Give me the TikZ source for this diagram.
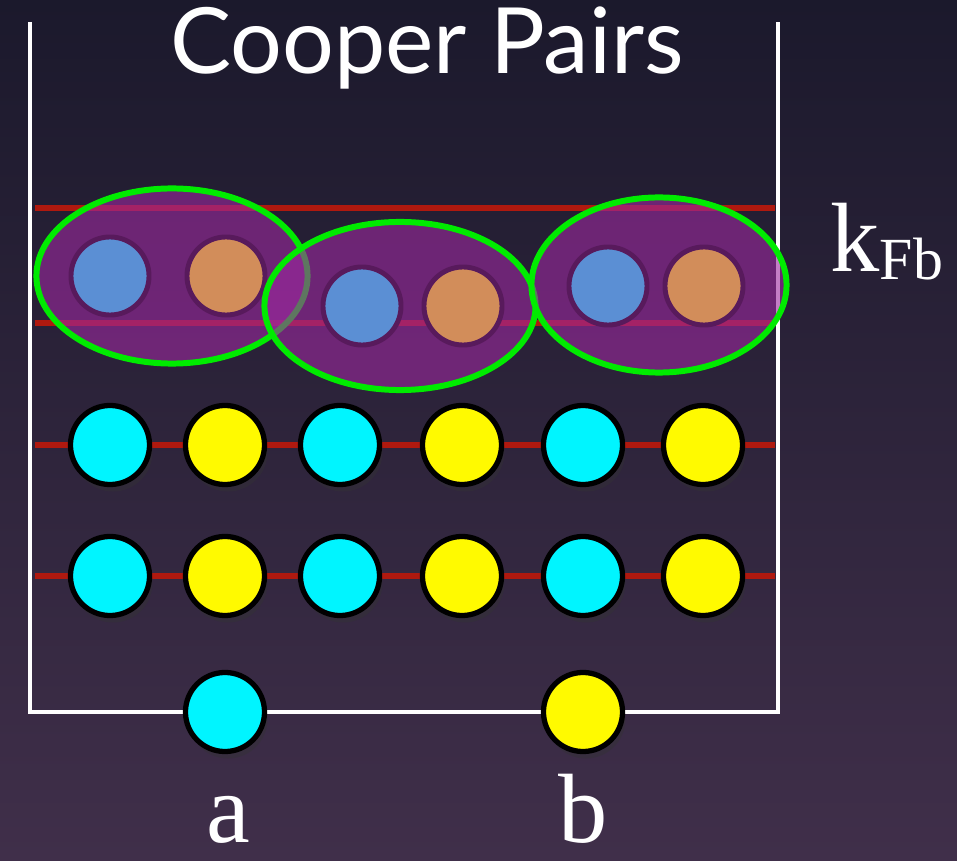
\documentclass[tikz,border=0pt]{standalone}
\usepackage{fontspec}
\setmainfont{Liberation Serif}
\newfontfamily\titlefont{Lato}
\usetikzlibrary{shadows,shapes.geometric}
\definecolor{bgtop}{RGB}{27,25,44}
\definecolor{bgbot}{RGB}{64,47,74}
\definecolor{redline}{RGB}{175,25,15}
\definecolor{pairfill}{RGB}{157,41,160}
\definecolor{pairring}{RGB}{88,26,92}
\definecolor{pblue}{RGB}{91,143,212}
\definecolor{porange}{RGB}{210,141,90}
\definecolor{lcyan}{RGB}{0,245,255}
\definecolor{lyellow}{RGB}{255,250,0}
\definecolor{pgreen}{RGB}{0,235,0}
\begin{document}
\begin{tikzpicture}[x=0.01cm,y=-0.01cm,
  wall/.style={draw=white, line width=1.1pt},
  bond/.style={draw=redline, line width=1.6pt},
  ion/.style={circle, inner sep=0pt, minimum size=0.79cm, draw=black, line width=1.5pt,
    drop shadow={opacity=0.4, fill=black!80, shadow xshift=0.03cm, shadow yshift=-0.07cm}},
  cy/.style={ion, fill=lcyan},
  ye/.style={ion, fill=lyellow},
  pair/.style={ellipse, draw=pgreen, line width=1.7pt, fill=pairfill, fill opacity=0.6, draw opacity=1, inner sep=0pt},
  el/.style={circle, inner sep=0pt, minimum size=0.78cm, draw=pairring, line width=1.4pt},
  eb/.style={el, fill=pblue},
  eo/.style={el, fill=porange},
  lbl/.style={text=white, inner sep=0pt}]
\useasboundingbox (0,0) rectangle (957,861);
\shade[top color=bgtop, bottom color=bgbot] (0,0) rectangle (957,861);

% title
\node[lbl, anchor=base, font=\titlefont\fontsize{26}{26}\selectfont] (title) at (427,74) {Cooper Pairs};

% bonds (lattice lines)
\coordinate (l1a) at (35,208); \coordinate (l1b) at (775,208);
\coordinate (l2a) at (35,323); \coordinate (l2b) at (775,323);
\coordinate (l3a) at (35,445); \coordinate (l3b) at (775,445);
\coordinate (l4a) at (35,576); \coordinate (l4b) at (775,576);
\draw[bond] (l1a) -- (l1b);
\draw[bond] (l2a) -- (l2b);
\draw[bond] (l3a) -- (l3b);
\draw[bond] (l4a) -- (l4b);

% well
\coordinate (wtl) at (30,22); \coordinate (wbl) at (30,712);
\coordinate (wbr) at (778,712); \coordinate (wtr) at (778,22);
\draw[wall] (wtl) -- (wbl) -- (wbr) -- (wtr);

% lattice rows
\foreach \y/\r in {445/a,576/b}{
  \node[cy] (c1\r) at (110,\y) {};
  \node[ye] (c2\r) at (225,\y) {};
  \node[cy] (c3\r) at (340,\y) {};
  \node[ye] (c4\r) at (462,\y) {};
  \node[cy] (c5\r) at (583,\y) {};
  \node[ye] (c6\r) at (703,\y) {};
}

% bottom states
\node[cy] (sa) at (225,712) {};
\node[ye] (sb) at (583,712) {};
\node[lbl, anchor=base, font=\fontsize{28}{28}\selectfont] (la) at (228,843) {a};
\node[lbl, anchor=base, font=\fontsize{28}{28}\selectfont] (lb) at (583,843) {b};

% Cooper pairs
\node[pair, minimum width=2.71cm, minimum height=1.75cm] (p1) at (172,276) {};
\node[eb] (p1b) at (110,276) {};
\node[eo] (p1o) at (226,276) {};
\node[pair, minimum width=2.71cm, minimum height=1.68cm] (p2) at (400,306) {};
\node[eb] (p2b) at (362,306) {};
\node[eo] (p2o) at (463,306) {};
\node[pair, minimum width=2.55cm, minimum height=1.75cm] (p3) at (659,285) {};
\node[eb] (p3b) at (608,286) {};
\node[eo] (p3o) at (704,286) {};

% k_Fb label
\node[lbl, anchor=base west] (kfb) at (830,272)
  {{\fontsize{28}{28}\selectfont k}\raisebox{-2pt}{\fontsize{17}{17}\selectfont Fb}};
\end{tikzpicture}
\end{document}
